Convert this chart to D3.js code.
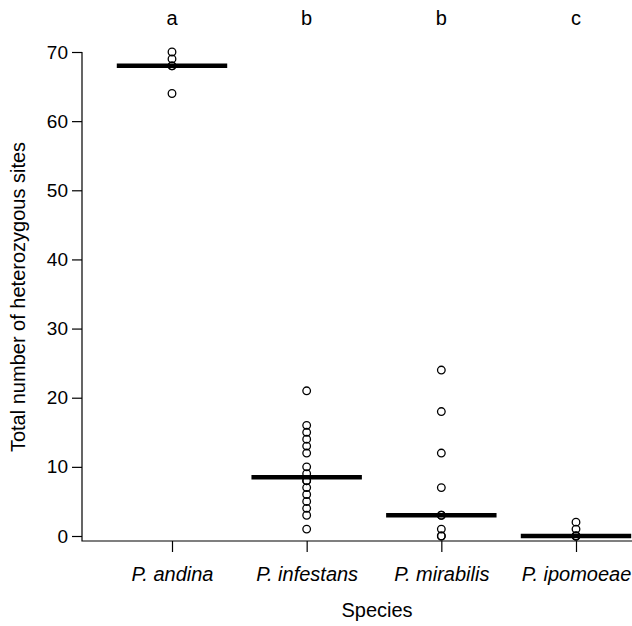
<!DOCTYPE html>
<html>
<head>
<meta charset="utf-8">
<script src="https://cdn.jsdelivr.net/npm/d3@7"></script>
<style>
  body { margin: 0; background: #fff; }
  text { font-family: "Liberation Sans", Arial, sans-serif; }
</style>
</head>
<body>
<svg id="chart" width="632" height="626"></svg>
<script>
// data
const species = ["P. andina", "P. infestans", "P. mirabilis", "P. ipomoeae"];
const groupLetters = ["a", "b", "b", "c"];
const andina = [70, 69, 68, 68, 64];
const infestans = [21, 16, 15, 14, 13, 12, 10, 9, 8, 8, 7, 6, 5, 4, 3, 1];
const mirabilis = [24, 18, 12, 7, 3, 3, 1, 0, 0];
const ipomoeae = [2, 1, 0, 0, 0];
const yTicks = [0, 10, 20, 30, 40, 50, 60, 70];

const values = [andina, infestans, mirabilis, ipomoeae];

const svg = d3.select("#chart");
const W = 632;
const axisX = 82, axisY = 541;
const fs = 20;

const x = d3.scalePoint().domain(species).range([172, 576]);
const y = d3.scaleLinear().domain([0, 70]).range([536, 52]);
const step = x.step();

// y axis
const yAxis = svg.append("g")
  .attr("transform", `translate(${axisX},0)`)
  .call(d3.axisLeft(y).tickValues(yTicks).tickSize(10).tickPadding(4));
yAxis.select(".domain").remove();
yAxis.selectAll("line").attr("stroke", "#000").attr("stroke-width", 1.2);
yAxis.selectAll("text").attr("font-size", fs - 1).attr("fill", "#000")
  .attr("font-family", "Liberation Sans, Arial, sans-serif");

// x axis
const xAxis = svg.append("g")
  .attr("transform", `translate(0,${axisY})`)
  .call(d3.axisBottom(x).tickSize(11));
xAxis.select(".domain").remove();
xAxis.selectAll("line").attr("stroke", "#000").attr("stroke-width", 1.2);
xAxis.selectAll("text")
  .attr("y", 40).attr("dy", 0)
  .attr("font-size", fs).attr("fill", "#000")
  .attr("font-style", "italic")
  .attr("font-family", "Liberation Sans, Arial, sans-serif");

// L-shaped frame
svg.append("path")
  .attr("d", `M${axisX},${y(70)}V${axisY}H${W}`)
  .attr("fill", "none").attr("stroke", "#000").attr("stroke-width", 1.2);

// medians
svg.selectAll(".median")
  .data(species)
  .join("line")
  .attr("class", "median")
  .attr("x1", d => x(d) - step * 0.41)
  .attr("x2", d => x(d) + step * 0.41)
  .attr("y1", (d, i) => y(d3.median(values[i])))
  .attr("y2", (d, i) => y(d3.median(values[i])))
  .attr("stroke", "#000")
  .attr("stroke-width", 4.5);

// points
const pts = [];
species.forEach((s, i) => values[i].forEach(v => pts.push({ s, v })));
svg.selectAll(".pt")
  .data(pts)
  .join("circle")
  .attr("class", "pt")
  .attr("cx", d => x(d.s))
  .attr("cy", d => y(d.v))
  .attr("r", 3.8)
  .attr("fill", "none")
  .attr("stroke", "#000")
  .attr("stroke-width", 1.3);

// significance letters
svg.selectAll(".letter")
  .data(species)
  .join("text")
  .attr("class", "letter")
  .attr("x", d => x(d))
  .attr("y", 25)
  .attr("text-anchor", "middle")
  .attr("font-size", fs)
  .text((d, i) => groupLetters[i]);

// axis titles
svg.append("text")
  .attr("x", 377).attr("y", 617)
  .attr("text-anchor", "middle")
  .attr("font-size", fs)
  .text("Species");

svg.append("text")
  .attr("transform", "translate(25,297) rotate(-90)")
  .attr("text-anchor", "middle")
  .attr("font-size", fs)
  .text("Total number of heterozygous sites");
</script>
</body>
</html>
